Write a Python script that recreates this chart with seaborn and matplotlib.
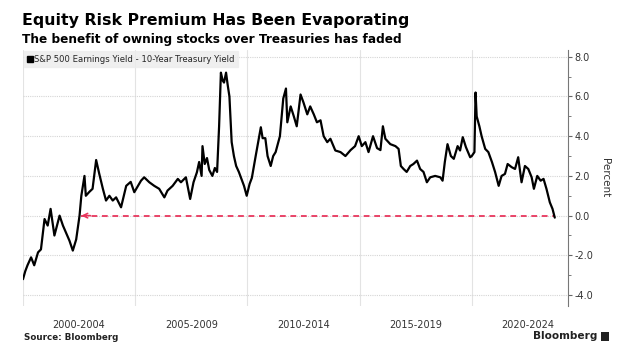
import numpy as np
import pandas as pd
import matplotlib
matplotlib.use("Agg")
import matplotlib.pyplot as plt
import seaborn as sns
from matplotlib.lines import Line2D
from matplotlib.patches import FancyBboxPatch

# ---- data ----
years = [
    2000.00, 2000.10, 2000.20, 2000.36, 2000.50, 2000.67, 2000.80, 2000.96, 2001.10, 2001.23,
    2001.40, 2001.63, 2001.78, 2001.93, 2002.07, 2002.22, 2002.37, 2002.52, 2002.60, 2002.74,
    2002.80, 2002.96, 2003.10, 2003.26, 2003.40, 2003.56, 2003.70, 2003.85, 2004.00, 2004.15,
    2004.37, 2004.60, 2004.80, 2004.96, 2005.26, 2005.40, 2005.63, 2005.85, 2006.07, 2006.30,
    2006.44, 2006.67, 2006.90, 2007.04, 2007.26, 2007.45, 2007.60, 2007.75, 2007.85, 2007.96,
    2008.00, 2008.10, 2008.20, 2008.30, 2008.44, 2008.55, 2008.65, 2008.74, 2008.82, 2008.90,
    2008.96, 2009.05, 2009.12, 2009.20, 2009.30, 2009.40, 2009.50, 2009.62, 2009.75, 2009.85,
    2009.97, 2010.10, 2010.20, 2010.37, 2010.60, 2010.68, 2010.80, 2010.90, 2011.04, 2011.15,
    2011.26, 2011.45, 2011.60, 2011.72, 2011.78, 2011.93, 2012.07, 2012.20, 2012.37, 2012.50,
    2012.67, 2012.80, 2012.96, 2013.10, 2013.26, 2013.40, 2013.56, 2013.70, 2013.92, 2014.15,
    2014.37, 2014.60, 2014.80, 2014.96, 2015.10, 2015.26, 2015.40, 2015.60, 2015.78, 2015.93,
    2016.04, 2016.15, 2016.37, 2016.60, 2016.74, 2016.84, 2016.96, 2017.10, 2017.26, 2017.40,
    2017.56, 2017.70, 2017.85, 2018.00, 2018.15, 2018.37, 2018.60, 2018.70, 2018.80, 2018.92,
    2019.07, 2019.20, 2019.37, 2019.48, 2019.60, 2019.74, 2019.93, 2020.00, 2020.12, 2020.17,
    2020.22, 2020.34, 2020.44, 2020.60, 2020.74, 2020.90, 2021.04, 2021.20, 2021.33, 2021.48,
    2021.60, 2021.78, 2021.93, 2022.07, 2022.22, 2022.37, 2022.52, 2022.67, 2022.77, 2022.92,
    2023.07, 2023.20, 2023.33, 2023.48, 2023.60, 2023.70,
]
premium = [
    -3.2, -2.8, -2.5, -2.1, -2.5, -1.85, -1.7, -0.17, -0.5, 0.34,
    -1.0, 0.0, -0.5, -0.9, -1.26, -1.76, -1.2, 0.0, 1.0, 2.0,
    1.0, 1.2, 1.35, 2.8, 2.1, 1.35, 0.76, 1.0, 0.76, 0.92,
    0.42, 1.5, 1.7, 1.18, 1.76, 1.93, 1.68, 1.5, 1.35, 0.92,
    1.26, 1.5, 1.85, 1.68, 1.93, 0.84, 1.68, 2.18, 2.7, 2.0,
    3.5, 2.6, 2.9, 2.3, 2.0, 2.4, 2.2, 4.5, 7.2, 6.8,
    6.7, 7.2, 6.6, 6.0, 3.7, 3.0, 2.5, 2.2, 1.8, 1.5,
    1.0, 1.6, 1.9, 3.0, 4.45, 3.9, 3.9, 3.0, 2.5, 3.0,
    3.2, 4.0, 5.9, 6.4, 4.7, 5.5, 5.0, 4.5, 6.1, 5.7,
    5.1, 5.5, 5.1, 4.7, 4.8, 4.0, 3.7, 3.87, 3.28, 3.2,
    3.0, 3.3, 3.5, 4.0, 3.5, 3.7, 3.2, 4.0, 3.4, 3.3,
    4.5, 3.87, 3.6, 3.5, 3.36, 2.5, 2.35, 2.2, 2.5, 2.6,
    2.77, 2.35, 2.2, 1.68, 1.93, 2.0, 1.93, 1.76, 2.7, 3.6,
    3.0, 2.86, 3.5, 3.28, 3.95, 3.45, 2.94, 3.0, 3.2, 6.2,
    5.0, 4.5, 4.0, 3.36, 3.2, 2.7, 2.2, 1.5, 2.0, 2.1,
    2.6, 2.44, 2.35, 2.94, 1.68, 2.5, 2.35, 1.93, 1.35, 2.0,
    1.76, 1.85, 1.35, 0.67, 0.34, -0.1,
]
series_label = "S&P 500 Earnings Yield - 10-Year Treasury Yield"
period_labels = ["2000-2004", "2005-2009", "2010-2014", "2015-2019", "2020-2024"]
period_starts = [2000, 2005, 2010, 2015, 2020]
ytick_values = [-4, -2, 0, 2, 4, 6, 8]
zero_line_start = 2002.6
zero_level = 0.0

title = "Equity Risk Premium Has Been Evaporating"
subtitle = "The benefit of owning stocks over Treasuries has faded"

df = pd.DataFrame({"year": years, "premium": premium})

# ---- figure ----
sns.set_theme(style="white")
plt.rcParams["font.family"] = ["DejaVu Sans"]

W, H = 627, 352
fig = plt.figure(figsize=(W / 100, H / 100), dpi=100)
ax = fig.add_axes([23 / W, 1 - 306 / H, (568 - 23) / W, (306 - 50) / H])

red = "#e8365d"
# red dashed zero line with arrow head
ax.plot([zero_line_start, years[-1]], [zero_level, zero_level], color=red,
        lw=1.3, ls=(0, (3.2, 2.6)), zorder=2)
ax.annotate("", xy=(zero_line_start, zero_level), xytext=(zero_line_start + 0.4, zero_level),
            arrowprops=dict(arrowstyle="->", color=red, lw=1.2, shrinkA=0, shrinkB=0,
                            mutation_scale=8), zorder=2)

sns.lineplot(data=df, x="year", y="premium", ax=ax, color="black", lw=1.6,
             estimator=None, zorder=3, legend=False)

ax.set_xlim(2000, 2024.29)
ax.set_ylim(-4.55, 8.34)

# x axis: period labels centered, grid at period boundaries
ax.set_xticks([s + 2.5 for s in period_starts])
ax.set_xticklabels(period_labels, fontsize=7, color="#333333")
ax.set_xticks(period_starts, minor=True)
ax.tick_params(axis="x", which="both", length=0, pad=10)
ax.grid(False)
ax.grid(axis="x", which="minor", color="#e3e3e3", lw=0.8)

# y axis on right
ax.yaxis.tick_right()
ax.yaxis.set_label_position("right")
ax.set_yticks(ytick_values)
ax.set_yticklabels([f"{v:.1f}" for v in ytick_values], fontsize=7, color="#333333")
ax.set_yticks([v + 1 for v in ytick_values[:-1]], minor=True)
ax.tick_params(axis="y", which="major", length=3, width=0.8, color="#666666", pad=1.5,
               right=True, left=False)
ax.tick_params(axis="y", which="minor", length=2, width=0.6, color="#666666",
               right=True, left=False)
ax.grid(axis="y", which="major", color="#d5d5d5", lw=0.8, ls=(0, (1, 1)))
ax.set_ylabel("Percent", fontsize=7.5, color="#333333", rotation=270, labelpad=12)
ax.set_xlabel("")

for side in ["top", "left", "bottom"]:
    ax.spines[side].set_visible(False)
ax.spines["right"].set_color("#777777")
ax.spines["right"].set_linewidth(0.8)

# legend
handle = Line2D([], [], marker="s", color="black", linestyle="none", markersize=4.5)
leg = ax.legend([handle], [series_label], loc="upper left", bbox_to_anchor=(0.0, 1.0),
                fontsize=6.15, frameon=True, fancybox=False, borderpad=0.4,
                handlelength=0.6, handletextpad=0.1, borderaxespad=0.15)
leg.get_frame().set_facecolor("#ececec")
leg.get_frame().set_edgecolor("#ececec")

# titles
fig.text(22 / W, 1 - 20 / H, title, fontsize=11.3, fontweight="bold", va="center",
         ha="left", color="black")
fig.text(22 / W, 1 - 40 / H, subtitle, fontsize=8.7, fontweight="bold", va="center",
         ha="left", color="black")

# footer
fig.text(24 / W, 1 - 337 / H, "Source: Bloomberg", fontsize=6.3, fontweight="bold",
         va="center", ha="left", color="#222222")
fig.text(597 / W, 1 - 336 / H, "Bloomberg", fontsize=7.6, fontweight="bold",
         va="center", ha="right", color="#222222")
icon = FancyBboxPatch((601 / W, 1 - 341 / H), 8 / W, 9 / H, boxstyle="round,pad=0",
                      transform=fig.transFigure, facecolor="#222222", edgecolor="none")
fig.patches.append(icon)

fig.savefig("out.png", dpi=100)
